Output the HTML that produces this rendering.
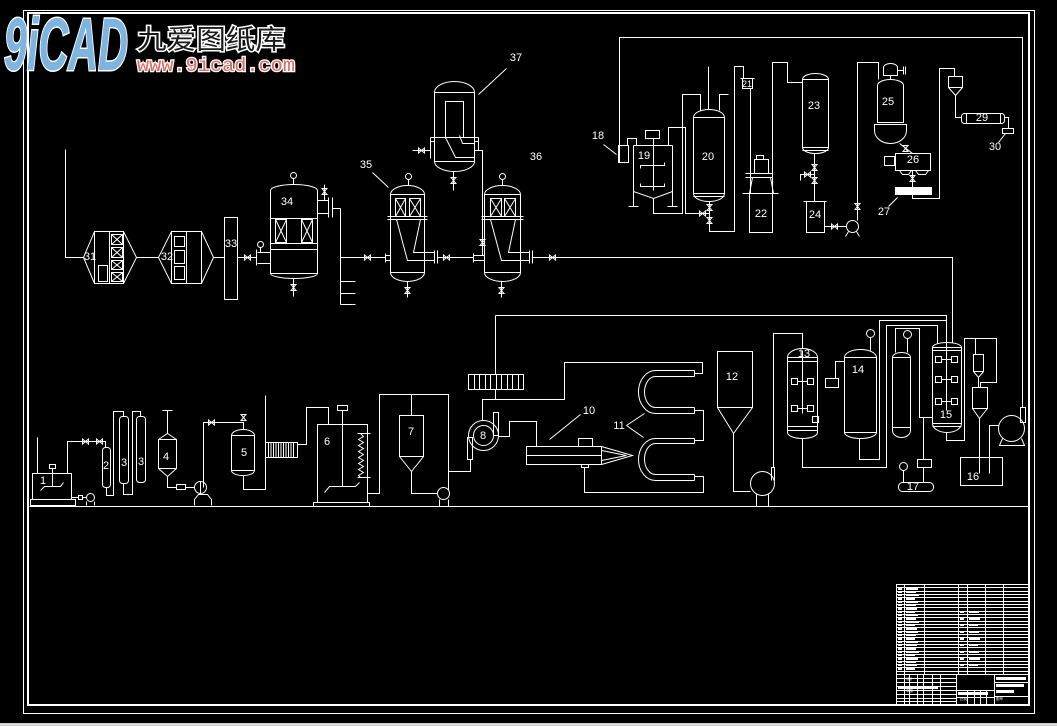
<!DOCTYPE html>
<html><head><meta charset="utf-8"><style>
html,body{margin:0;padding:0;background:#000;}
svg{display:block}
</style></head><body>
<svg xmlns="http://www.w3.org/2000/svg" width="1057" height="726" viewBox="0 0 1057 726">
<rect width="1057" height="726" fill="#000"/>
<rect x="0" y="723" width="1057" height="3" fill="#d4d4d4"/>
<!-- frame -->
<rect x="23.5" y="10.5" width="1011" height="703" fill="none" stroke="#fff"/>
<rect x="28" y="13" width="1001" height="692" fill="none" stroke="#fff" stroke-width="2"/>

<g fill="none" stroke="#fff" stroke-width="1" transform="translate(0.5,0.5)">
<path d="M29 506 H1028"/>

<!-- ===== LEFT UPPER CHAIN 31-34 ===== -->
<path d="M65 149 V257 H83"/>
<polygon points="83,257 94,231 123,231 136,257 123,283 94,283"/>
<path d="M94 231 V283 M109 231 V283 M123 231 V283"/>
<rect x="111" y="234" width="11" height="10"/><path d="M111 234 L122 244 M122 234 L111 244"/>
<rect x="111" y="247" width="11" height="10"/><path d="M111 247 L122 257 M122 247 L111 257"/>
<rect x="111" y="260" width="11" height="9"/><path d="M111 260 L122 269 M122 260 L111 269"/>
<rect x="111" y="272" width="11" height="9"/><path d="M111 272 L122 281 M122 272 L111 281"/>
<rect x="98" y="265" width="9" height="16"/>
<path d="M136 257 H158"/>
<polygon points="158,257 171,231 201,231 213,257 201,283 171,283"/>
<path d="M171 231 V283 M186 231 V283 M201 231 V283"/>
<rect x="174" y="236" width="10" height="10"/>
<rect x="174" y="250" width="10" height="13"/>
<rect x="174" y="266" width="10" height="13"/>
<path d="M213 257 H224"/>
<rect x="224" y="217" width="13" height="82"/>
<path d="M237 257 H256"/>
<path d="M244 254.5L250 259.5V254.5L244 259.5Z"/>
<path d="M256 249 V265 M257 252 H270 M257 263 H270 M260 252 V247"/>
<circle cx="260" cy="244" r="3"/>
<!-- 34 -->
<path d="M270 273 V190 A23.5 6 0 0 1 317 190 V273 A23.5 5 0 0 1 270 273"/>
<path d="M270 218 H317 M270 243 H317 M270 249 H317 M270 273 H317"/>
<rect x="275" y="219" width="11" height="23"/><path d="M275 219 L286 242 M286 219 L275 242"/>
<rect x="301" y="219" width="11" height="23"/><path d="M301 219 L312 242 M312 219 L301 242"/>
<circle cx="293" cy="175" r="3"/><path d="M293 178 V184"/>
<path d="M293 278 V296"/><path d="M290.5 284L295.5 290H290.5L295.5 284Z"/>
<path d="M317 200 H328 M317 213 H328 M328 197 V217 M332 197 V217 M332 208 H340 M340 208 V304 M340 281 H355 M340 293 H355 M340 304 H355"/>
<path d="M324 184 V200"/><path d="M321.5 188L326.5 194H321.5L326.5 188Z"/>

<!-- ===== 35 ===== -->
<path d="M340 257 H385"/><path d="M364 254.5L370 259.5V254.5L364 259.5Z"/>
<path d="M385 253 V262 M385 255 H390 M385 260 H390"/>
<path d="M390 272 V194 A17 9 0 0 1 424 194 V272 A17 9 0 0 1 390 272"/>
<path d="M390 194 H424 M387 216 H427 M387 219 H427 M390 272 H424"/>
<rect x="395" y="198" width="10" height="18"/><path d="M395 198 L405 216 M405 198 L395 216"/>
<rect x="409" y="198" width="11" height="18"/><path d="M409 198 L420 216 M420 198 L409 216"/>
<path d="M396 219 L407 260 H434 M420 219 L413 252 H434"/>
<path d="M434 250 V263 M437 250 V263 M437 257 H473"/>
<path d="M443 254.5L449 259.5V254.5L443 259.5Z"/>
<path d="M407 281 V297"/><path d="M404.5 287L409.5 293H404.5L409.5 287Z"/>
<circle cx="408" cy="176" r="3"/><path d="M408 179 V185"/>
<path d="M372 172 L388 187"/>

<!-- ===== 36 ===== -->
<path d="M473 253 V262 M473 255 H484 M473 260 H484"/>
<path d="M484 272 V194 A18 9 0 0 1 520 194 V272 A18 9 0 0 1 484 272"/>
<path d="M484 194 H520 M481 216 H523 M481 219 H523 M484 272 H520"/>
<rect x="490" y="198" width="11" height="18"/><path d="M490 198 L501 216 M501 198 L490 216"/>
<rect x="504" y="198" width="11" height="18"/><path d="M504 198 L515 216 M515 198 L504 216"/>
<path d="M490 219 L501 260 H529 M515 219 L508 252 H529"/>
<path d="M529 250 V263 M532 250 V263 M532 257 H952 V342"/>
<path d="M549 254.5L555 259.5V254.5L549 259.5Z"/>
<path d="M501 281 V297"/><path d="M498.5 287L503.5 293H498.5L503.5 287Z"/>
<circle cx="502" cy="176" r="3"/><path d="M502 179 V185"/>

<!-- ===== 37 ===== -->
<path d="M434 161 V92 A20 11 0 0 1 474 92 V161 A20 10 0 0 1 434 161"/>
<path d="M434 92 H474 M434 161 H474"/>
<rect x="445" y="101" width="18" height="36"/>
<path d="M430 137 H478 M430 141 H434 M474 141 H478 M430 137 V158 M478 137 V150"/>
<path d="M445 137 L455 157 H474 M459 135 L462 143 H474"/>
<path d="M412 150 H430"/><path d="M418 147.5L424 152.5V147.5L418 152.5Z"/>
<path d="M474 150 H482 V255"/><path d="M479.5 239L484.5 245H479.5L484.5 239Z"/>
<path d="M453 171 V190"/><path d="M450.5 177L455.5 183H450.5L455.5 177Z"/>
<path d="M506 68 L478 94"/>

<!-- ===== TOP RIGHT 18-30 ===== -->
<path d="M619 162 V37 H1022 V407"/>
<rect x="618" y="145" width="10" height="17"/>
<path d="M603 144 L616 154"/>
<path d="M627 145 V138 H636 V145"/>
<!-- 19 -->
<path d="M633 145 H672 M633 145 V206 M672 145 V206 M633 191 L653 198 L672 191 M628 206 H638 M667 206 H677"/>
<rect x="645" y="130" width="14" height="8"/>
<path d="M653 138 V190 M640 168 V165 H664 V162 M640 183 V186 H664 V183"/>
<path d="M653 198 V213 H682 V94 H700 V110"/>
<path d="M668 145 V127 H685 V213 H709"/>
<path d="M699 210.5L705 215.5V210.5L699 215.5Z"/>
<!-- 20 -->
<path d="M693 193 V117 A15.5 8 0 0 1 724 117 V193 A15.5 8 0 0 1 693 193"/>
<path d="M693 117 H724 M693 193 H724 M693 196 H724"/>
<path d="M708 66 V109 M719 110 V94 H728"/>
<path d="M709 201 V231 H734 V66 H743 V78"/>
<path d="M706.5 204L711.5 210H706.5L711.5 204Z"/>
<path d="M706.5 217L711.5 223H706.5L711.5 217Z"/>
<!-- 21/22 -->
<rect x="742" y="78" width="10" height="10"/>
<path d="M740 78 H754 M750 88 V193"/>
<rect x="749" y="193" width="23" height="39"/>
<path d="M742 193 H778"/>
<rect x="754" y="159" width="14" height="14"/>
<rect x="756" y="155" width="7" height="4"/>
<path d="M745 173 H772 M745 177 H772 M752 177 L749 193 M770 177 L773 193"/>
<path d="M772 193 V62 H787 V82 H802"/>
<!-- 23 -->
<path d="M802 147 V79 A13 6 0 0 1 828 79 V147 A13 6 0 0 1 802 147"/>
<path d="M802 79 H828 M802 147 H828 M802 150 H828"/>
<path d="M814 153 V201 M814 174 H800 V180"/>
<path d="M811.5 164L816.5 170H811.5L816.5 164Z"/>
<path d="M811.5 177L816.5 183H811.5L816.5 177Z"/>
<path d="M804 171.5L810 176.5V171.5L804 176.5Z"/>
<!-- 24 -->
<rect x="806" y="201" width="18" height="31"/>
<path d="M803 201 H826 M824 226 H846"/>
<path d="M831 223.5L837 228.5V223.5L831 228.5Z"/>
<circle cx="852" cy="226" r="6"/>
<path d="M848 231 L845 236 M856 231 L859 236 M857 220 V62 H878 V79"/>
<path d="M854.5 203L859.5 209H854.5L859.5 203Z"/>
<!-- 25 -->
<path d="M883 75 V67 A7 4 0 0 1 897 67 V75 Z M897 70 H903 M903 66 V74 M905 66 V74 M890 75 V79"/>
<path d="M877 122 V85 A13 6 0 0 1 903 85 V122 Z"/>
<path d="M874 124 H906 V130 A16 13 0 0 1 874 130 Z"/>
<path d="M899 143 L912 153"/>
<path d="M902.5 145L907.5 151H902.5L907.5 145Z"/>
<!-- 26 -->
<rect x="895" y="153" width="35" height="17"/>
<rect x="884" y="156" width="10" height="9"/>
<path d="M899 170 L902 174 H908 L911 170 M915 170 L918 174 H925 L928 170"/>
<path d="M912 170 V187"/>
<path d="M909.5 175L914.5 181H909.5L914.5 175Z"/>
<rect x="895" y="187" width="36" height="7" fill="#fff"/>
<path d="M888 206 L897 197"/>
<path d="M912 194 V198 H939 V68 H954 V76"/>
<!-- 29/30 -->
<rect x="948" y="76" width="14" height="11"/>
<path d="M948 87 L955 95 L962 87 M955 95 V117 H961"/>
<rect x="961" y="113" width="43" height="10" rx="3"/>
<path d="M966 113 V123 M1000 113 V123 M1004 117 H1008 V128"/>
<rect x="1002" y="128" width="11" height="5"/>
<path d="M998 142 L1005 133"/>

<!-- ===== LOWER LEFT 1-5 ===== -->
<rect x="32" y="473" width="39" height="26"/>
<rect x="30" y="499" width="45" height="6"/>
<rect x="49" y="464" width="6" height="4"/>
<path d="M52 468 V486 M40 490 L44 486 H60 L63 482"/>
<path d="M37 437 V473"/>
<path d="M67 473 V441 H105 V447"/>
<path d="M82 438.5L88 443.5V438.5L82 443.5Z"/>
<path d="M96 438.5L102 443.5V438.5L96 443.5Z"/>
<path d="M71 497 H78 M82 497 H86"/>
<rect x="78" y="495" width="4" height="4"/>
<circle cx="90" cy="497" r="4"/>
<path d="M86 501 V505 M94 501 V505"/>
<rect x="102" y="447" width="8" height="40" rx="3"/>
<path d="M106 487 V495 H113 V411 H123 V416"/>
<rect x="119" y="416" width="9" height="67" rx="3"/>
<path d="M123 483 V494 H132 V411 H140 V416"/>
<rect x="136" y="416" width="9" height="66" rx="3"/>
<!-- 4 -->
<path d="M167 433 L176 439 V468 L167 476 L158 468 V439 Z M158 439 H176 M158 468 H176"/>
<path d="M167 433 V410 M162 410 H172"/>
<path d="M167 476 V487 H176 M185 487 H194"/>
<rect x="176" y="484" width="9" height="5"/>
<circle cx="200" cy="487" r="6"/>
<path d="M200 481 V493 M194 505 V499 L198 494 H207 L211 499 V505"/>
<path d="M203 487 V422 H243 V429"/>
<path d="M208 419.5L214 424.5V419.5L208 424.5Z"/>
<path d="M240.5 414L245.5 420H240.5L245.5 414Z"/>
<!-- 5 -->
<path d="M231 470 V435 A11.5 6 0 0 1 254 435 V470 A11.5 5 0 0 1 231 470"/>
<path d="M231 435 H254 M231 470 H254"/>
<path d="M243 475 V489 H265 V457"/>
<!-- heat exchanger -->
<rect x="265" y="442" width="32" height="15"/>
<path d="M268 442 V457 M270.5 442 V457 M273 442 V457 M275.5 442 V457 M278 442 V457 M280.5 442 V457 M283 442 V457 M285.5 442 V457 M288 442 V457 M290.5 442 V457 M293 442 V457"/>
<path d="M265 442 V395"/>
<path d="M297 444 H306 V407 H328 V424"/>
<!-- 6 -->
<rect x="317" y="424" width="50" height="78"/>
<rect x="313" y="502" width="56" height="4"/>
<rect x="337" y="405" width="10" height="5"/>
<path d="M342 410 V486 M324 492 L329 486 H355 L359 482"/>
<path d="M357 433 H370 M357 477 H370"/>
<polyline points="360,433 363,436 358,439 363,442 358,445 363,448 358,451 363,454 358,457 363,460 358,463 363,466 358,469 363,472 358,475 360,477"/>
<!-- 7 -->
<path d="M367 493 H379 V394 H448 V490"/>
<rect x="399" y="415" width="24" height="41"/>
<path d="M399 456 L411 471 L423 456 M411 394 V415 M411 471 V493 H437"/>
<circle cx="443" cy="493" r="6"/>
<path d="M439 499 V506 M448 499 V506 M448 471 H470 V459"/>
<!-- 8 -->
<circle cx="483" cy="435" r="15"/>
<circle cx="483" cy="435" r="10"/>
<rect x="493" y="412" width="5" height="23"/>
<rect x="467" y="437" width="5" height="22"/>
<path d="M498 436 H509 V421 H536 V446"/>
<!-- fin box & pipes -->
<path d="M495 315 H946 V342"/>
<rect x="468" y="374" width="55" height="15"/>
<path d="M474 374 V389 M479 374 V389 M485 374 V389 M490 374 V389 M496 374 V389 M501 374 V389 M507 374 V389 M512 374 V389 M518 374 V389"/>
<path d="M495 315 V374 M495 389 V399"/>
<path d="M482 420 V399 H564 V362 H702 V373 H694"/>
<!-- 10 -->
<rect x="526" y="446" width="75" height="18"/>
<path d="M526 455 H601"/>
<rect x="578" y="438" width="14" height="8"/>
<rect x="581" y="464" width="7" height="3"/>
<path d="M601 446 L632 455 L601 464 M601 450 L626 455 L601 460"/>
<path d="M549 439 L580 414"/>
<path d="M584 467 V492 H703 V476 H694"/>
<!-- 11 -->
<path d="M694 370 H655 A17 21.5 0 0 0 655 413 H694 M694 376 H655 A11 15.5 0 0 0 655 407 H694 M694 370 V376 M694 407 V413"/>
<path d="M694 438 H655 A17 21 0 0 0 655 480 H694 M694 443 H655 A11 15.5 0 0 0 655 474 H694 M694 438 V443 M694 474 V480"/>
<path d="M694 410 H703 V440 H694"/>
<path d="M626 425 L644 413 M626 425 L643 437"/>
<!-- 12 -->
<rect x="717" y="351" width="35" height="56"/>
<path d="M717 407 L733 433 L752 407 M733 433 V491 H750"/>
<circle cx="762" cy="483" r="12"/>
<path d="M771 480 V467 H774 V480 M773 467 V333 H802 V348 M756 494 V506 M768 494 V506"/>
<!-- 13 -->
<path d="M787 432 V357 A15 9 0 0 1 817 357 V432 A15 6 0 0 1 787 432"/>
<path d="M787 357 H817 M787 361 H817 M787 426 H817 M787 430 H817"/>
<path d="M802 350 V413 M797 381 H807 M797 408 H807"/>
<rect x="791" y="378" width="6" height="6"/><rect x="807" y="378" width="6" height="6"/>
<rect x="791" y="405" width="6" height="6"/><rect x="807" y="405" width="6" height="6"/>
<rect x="812" y="416" width="6" height="6"/>
<path d="M802 438 V467 H886 V325 H937 V343"/>
<!-- 14 -->
<path d="M844 432 V357 A16 8 0 0 1 876 357 V432 A16 6 0 0 1 844 432"/>
<path d="M844 357 H876 M844 432 H876"/>
<circle cx="870" cy="333" r="4"/><path d="M870 337 V350"/>
<rect x="825" y="378" width="13" height="9"/>
<path d="M835 378 V361 H844"/>
<path d="M859 438 V459 H879 V320 H946"/>
<!-- column -->
<path d="M892 430 V357 A9 5 0 0 1 910 357 V430 A9 7 0 0 1 892 430"/>
<path d="M892 357 H910 M892 427 H910"/>
<circle cx="907" cy="334" r="4"/><path d="M907 338 V352"/>
<path d="M895 352 V328 H919 V417 H932 M923 417 V459"/>
<rect x="917" y="459" width="14" height="8"/>
<path d="M923 467 V482"/>
<rect x="898" y="482" width="35" height="9" rx="4"/>
<circle cx="903" cy="466" r="4"/><path d="M903 470 V482"/>
<!-- 15 -->
<path d="M932 423 V347 A14.5 5 0 0 1 961 347 V423 A14.5 9 0 0 1 932 423"/>
<path d="M932 347 H961 M932 350 H961 M932 423 H961 M932 426 H961"/>
<path d="M946 342 V410 M941 359 H951 M941 379 H951 M941 401 H951"/>
<rect x="935" y="356" width="6" height="6"/><rect x="951" y="356" width="6" height="6"/>
<rect x="935" y="376" width="6" height="6"/><rect x="951" y="376" width="6" height="6"/>
<rect x="935" y="398" width="6" height="6"/><rect x="951" y="398" width="6" height="6"/>
<path d="M946 432 V440 H964 V338 H996 V382 H980 V387 M975 338 V354"/>
<rect x="973" y="354" width="10" height="17"/>
<path d="M973 371 L978 377 L983 371 M978 377 V387"/>
<rect x="972" y="387" width="15" height="21"/>
<path d="M972 408 L979 418 L987 408 M979 418 V473"/>
<!-- 16 -->
<rect x="960" y="457" width="42" height="28"/>
<path d="M989 473 V425 H998"/>
<circle cx="1011" cy="428" r="13"/>
<path d="M1002 438 L999 445 H1024 L1021 438"/>
<rect x="1020" y="407" width="5" height="15"/>

<!-- ===== TITLE BLOCK ===== -->
<rect x="896" y="584" width="133" height="120"/>
<path d="M896 587 H1029 M896 591 H1029 M896 594 H1029 M896 597 H1029 M896 601 H1029 M896 604 H1029 M896 607 H1029 M896 611 H1029 M896 614 H1029 M896 617 H1029 M896 621 H1029 M896 624 H1029 M896 627 H1029 M896 631 H1029 M896 634 H1029 M896 637 H1029 M896 641 H1029 M896 644 H1029 M896 647 H1029 M896 651 H1029 M896 654 H1029 M896 657 H1029 M896 661 H1029 M896 664 H1029 M896 667 H1029 M896 671 H1029 M896 674 H1029"/>
<path d="M904 584 V674 M924 584 V674 M958 584 V674 M967 584 V674 M985 584 V674 M1003 584 V674"/>
<path d="M896 678 H956 M896 682 H956 M896 686 H956 M896 690 H956 M896 694 H956 M896 698 H956 M896 701 H956"/>
<path d="M904 674 V704 M909 674 V704 M917 674 V704 M923 674 V704 M932 674 V704 M940 674 V704 M956 674 V704 M994 674 V704"/>
<path d="M956 690 H994 M956 697 H994 M967 690 V704 M974 690 V704 M980 690 V704 M986 690 V704 M994 682 H1029 M994 696 H1029"/>
</g>

<!-- title block filler marks -->
<g fill="#fff">
<rect x="898" y="588" width="4" height="2"/><rect x="906" y="588" width="12" height="2"/>
<rect x="898" y="592" width="4" height="1"/><rect x="906" y="592" width="10" height="1"/>
<rect x="898" y="595" width="4" height="1"/><rect x="906" y="595" width="13" height="1"/>
<rect x="898" y="598" width="4" height="2"/><rect x="906" y="598" width="9" height="2"/>
<rect x="898" y="602" width="4" height="1"/><rect x="906" y="602" width="12" height="1"/>
<rect x="898" y="605" width="4" height="1"/><rect x="906" y="605" width="10" height="1"/>
<rect x="898" y="608" width="4" height="2"/><rect x="906" y="608" width="11" height="2"/>
<rect x="898" y="612" width="4" height="1"/><rect x="906" y="612" width="9" height="1"/>
<rect x="898" y="615" width="4" height="1"/><rect x="906" y="615" width="12" height="1"/>
<rect x="898" y="618" width="4" height="2"/><rect x="906" y="618" width="10" height="2"/>
<rect x="898" y="622" width="4" height="1"/><rect x="906" y="622" width="13" height="1"/>
<rect x="898" y="625" width="4" height="1"/><rect x="906" y="625" width="9" height="1"/>
<rect x="898" y="628" width="4" height="2"/><rect x="906" y="628" width="11" height="2"/>
<rect x="898" y="632" width="4" height="1"/><rect x="906" y="632" width="12" height="1"/>
<rect x="898" y="635" width="4" height="1"/><rect x="906" y="635" width="10" height="1"/>
<rect x="898" y="638" width="4" height="2"/><rect x="906" y="638" width="9" height="2"/>
<rect x="898" y="642" width="4" height="1"/><rect x="906" y="642" width="12" height="1"/>
<rect x="898" y="645" width="4" height="1"/><rect x="906" y="645" width="11" height="1"/>
<rect x="898" y="648" width="4" height="2"/><rect x="906" y="648" width="10" height="2"/>
<rect x="898" y="652" width="4" height="1"/><rect x="906" y="652" width="13" height="1"/>
<rect x="898" y="655" width="4" height="1"/><rect x="906" y="655" width="9" height="1"/>
<rect x="898" y="658" width="4" height="2"/><rect x="906" y="658" width="12" height="2"/>
<rect x="898" y="662" width="4" height="1"/><rect x="906" y="662" width="10" height="1"/>
<rect x="898" y="665" width="4" height="1"/><rect x="906" y="665" width="11" height="1"/>
<rect x="898" y="668" width="4" height="2"/><rect x="906" y="668" width="9" height="2"/>
<rect x="960" y="612" width="4" height="1"/><rect x="969" y="612" width="10" height="1"/>
<rect x="960" y="618" width="4" height="2"/><rect x="969" y="618" width="11" height="2"/>
<rect x="960" y="625" width="4" height="1"/><rect x="969" y="625" width="9" height="1"/>
<rect x="960" y="632" width="4" height="1"/><rect x="969" y="632" width="10" height="1"/>
<rect x="960" y="638" width="4" height="2"/><rect x="969" y="638" width="11" height="2"/>
<rect x="960" y="645" width="4" height="1"/><rect x="969" y="645" width="9" height="1"/>
<rect x="960" y="652" width="4" height="1"/><rect x="969" y="652" width="10" height="1"/>
<rect x="960" y="658" width="4" height="2"/><rect x="969" y="658" width="11" height="2"/>
<rect x="960" y="665" width="4" height="1"/><rect x="969" y="665" width="9" height="1"/>
<rect x="898" y="686" width="40" height="3"/>
<rect x="996" y="677" width="30" height="3"/><rect x="996" y="684" width="28" height="3"/><rect x="996" y="690" width="18" height="3"/>
<rect x="958" y="692" width="30" height="3"/>
</g>
<g fill="#fff" font-family="'Liberation Sans','Noto Sans CJK SC',sans-serif" font-size="3.5">
<text x="906" y="680">设计</text><text x="906" y="692">审核</text><text x="960" y="700">比例</text><text x="996" y="700">图号</text>
</g>

<!-- labels -->
<g fill="#fff" font-family="'Liberation Sans',sans-serif" font-size="11" text-anchor="middle">
<text x="90" y="260">31</text>
<text x="167" y="260">32</text>
<text x="231" y="247">33</text>
<text x="287" y="205">34</text>
<text x="366" y="168">35</text>
<text x="536" y="160">36</text>
<text x="516" y="61">37</text>
<text x="598" y="139">18</text>
<text x="644" y="159">19</text>
<text x="708" y="160">20</text>
<text x="747" y="87" font-size="9">21</text>
<text x="761" y="217">22</text>
<text x="814" y="109">23</text>
<text x="815" y="218">24</text>
<text x="888" y="105">25</text>
<text x="913" y="163">26</text>
<text x="884" y="215">27</text>
<text x="982" y="121">29</text>
<text x="995" y="150">30</text>
<text x="43" y="484">1</text>
<text x="106" y="469">2</text>
<text x="124" y="466">3</text>
<text x="141" y="465">3</text>
<text x="166" y="460">4</text>
<text x="244" y="456">5</text>
<text x="327" y="445">6</text>
<text x="411" y="435">7</text>
<text x="483" y="439">8</text>
<text x="589" y="414">10</text>
<text x="619" y="429">11</text>
<text x="732" y="380">12</text>
<text x="804" y="357">13</text>
<text x="858" y="373">14</text>
<text x="946" y="418">15</text>
<text x="973" y="480">16</text>
<text x="913" y="490">17</text>
</g>

<!-- logo -->
<g>
<text x="4" y="70" font-family="'Liberation Sans',sans-serif" font-weight="bold" font-style="italic" font-size="74" textLength="124" lengthAdjust="spacingAndGlyphs" fill="#7db4e0" stroke="#ffffff" stroke-width="3" paint-order="stroke">9iCAD</text>
<text x="137" y="49" font-family="'Liberation Sans','Noto Sans CJK SC',sans-serif" font-size="27" textLength="148" lengthAdjust="spacingAndGlyphs" fill="#1a1a1a" stroke="#ffffff" stroke-width="3" paint-order="stroke">九爱图纸库</text>
<text x="137" y="71" font-family="'Liberation Mono',monospace" font-size="19" textLength="158" lengthAdjust="spacingAndGlyphs" fill="#e0685c" stroke="#ffffff" stroke-width="2.5" paint-order="stroke">www.9icad.com</text>
</g>
</svg>
</body></html>
